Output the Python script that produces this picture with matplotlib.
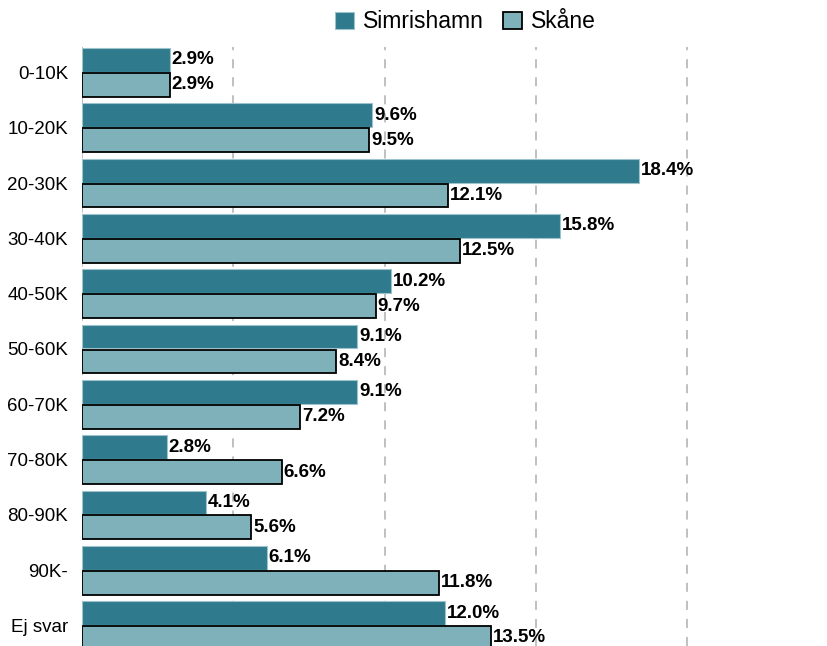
import matplotlib.pyplot as plt
import numpy as np

plt.rcParams['font.family'] = ['Liberation Sans', 'DejaVu Sans']

kategorier = ['0-10K', '10-20K', '20-30K', '30-40K', '40-50K', '50-60K',
              '60-70K', '70-80K', '80-90K', '90K-', 'Ej svar']
simrishamn = [2.9, 9.6, 18.4, 15.8, 10.2, 9.1, 9.1, 2.8, 4.1, 6.1, 12.0]
skane = [2.9, 9.5, 12.1, 12.5, 9.7, 8.4, 7.2, 6.6, 5.6, 11.8, 13.5]

fig = plt.figure(figsize=(8.27, 6.46), dpi=100)
ax = fig.add_axes([82 / 827, 0, 1 - 82 / 827, 1 - 47 / 646])

y = np.arange(len(kategorier))
h = 0.43
b1 = ax.barh(y - 0.225, simrishamn, height=h, color='#2f7a8c',
             edgecolor='#9cc3cb', linewidth=0.8, label='Simrishamn', zorder=3)
b2 = ax.barh(y + 0.225, skane, height=h, color='#7fb1ba',
             edgecolor='black', linewidth=1.3, label='Skåne', zorder=3)

# etiketter vid varje stapel
for rect, v in zip(b1, simrishamn):
    ax.annotate(f'{v:.1f}%', (v, rect.get_y() + rect.get_height() / 2),
                xytext=(1.5, 0), textcoords='offset points', va='center',
                ha='left', fontsize=13.5, fontweight='bold', zorder=4)
for rect, v in zip(b2, skane):
    ax.annotate(f'{v:.1f}%', (v, rect.get_y() + rect.get_height() / 2),
                xytext=(1.5, 0), textcoords='offset points', va='center',
                ha='left', fontsize=13.5, fontweight='bold', zorder=4)

ax.set_yticks(y)
ax.set_yticklabels(kategorier, fontsize=13.5)
ax.set_ylim(10.37, -0.46)
ax.set_xlim(0, (827 - 82) / 30.26)
ax.set_xticks([0, 5, 10, 15, 20])
ax.set_xticklabels([])
ax.tick_params(length=0, pad=10)
ax.grid(axis='x', color='#bbbbbb', linestyle=(0, (5, 5)), linewidth=1.3, zorder=0)
for s in ax.spines.values():
    s.set_visible(False)

fig.legend(loc='center', bbox_to_anchor=(0.563, 0.966), ncol=2, frameon=False,
           fontsize=16.5, handlelength=0.8, handleheight=0.8, columnspacing=0.85,
           handletextpad=0.4)

fig.savefig('out.png', dpi=100)
